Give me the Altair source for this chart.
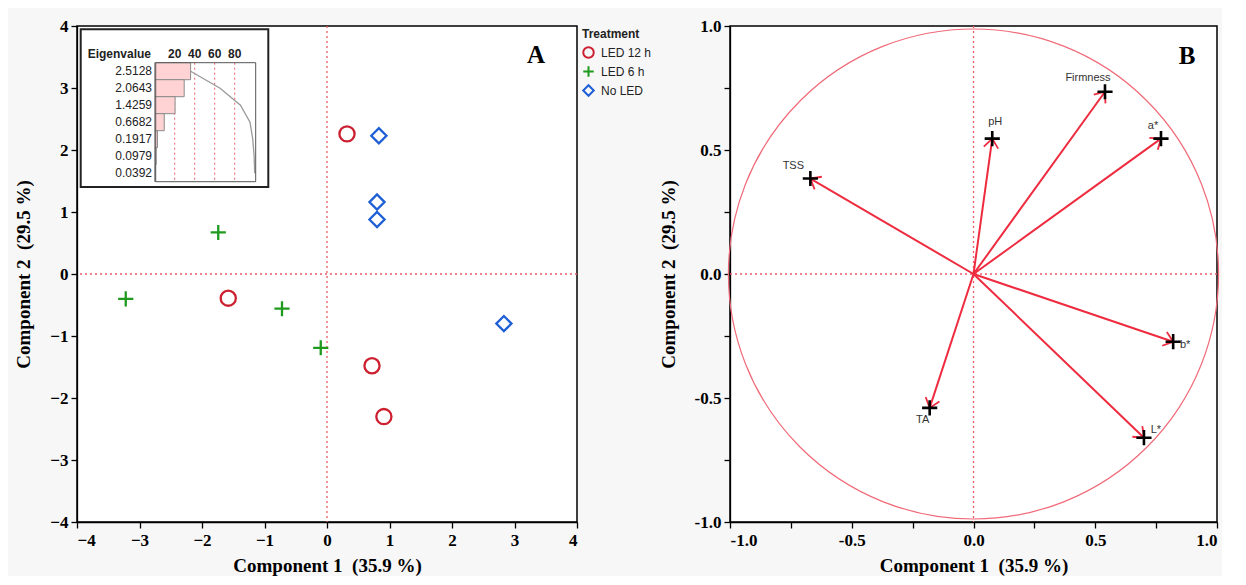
import altair as alt
import pandas as pd

# ---------------- data ----------------
treatment = ["LED 12 h"] * 4 + ["LED 6 h"] * 4 + ["No LED"] * 4
comp1 = [0.32, -1.58, 0.72, 0.91, -1.74, -3.22, -0.72, -0.10, 0.83, 0.80, 0.80, 2.83]
comp2 = [2.26, -0.39, -1.48, -2.30, 0.67, -0.40, -0.56, -1.19, 2.23, 1.16, 0.88, -0.80]

variables = ["TSS", "pH", "Firmness", "a*", "b*", "L*", "TA"]
load1 = [-0.67, 0.077, 0.54, 0.77, 0.82, 0.70, -0.18]
load2 = [0.385, 0.546, 0.735, 0.546, -0.273, -0.66, -0.54]

eigenvalues = [2.5128, 2.0643, 1.4259, 0.6682, 0.1917, 0.0979, 0.0392]
eigen_rows = [1, 2, 3, 4, 5, 6, 7]
pct_ticks = [20, 40, 60, 80]

treat_order = ["LED 12 h", "LED 6 h", "No LED"]
treat_colors = ["#cc1f30", "#1f9a1f", "#1f5fd6"]
PLUS = "M-1,0L1,0M0,-1L0,1"
treat_shapes = ["circle", PLUS, "diamond"]

RED = "#ee2b3f"
DOT = "#ec5a68"
SERIF = "Liberation Serif"
SANS = "Liberation Sans"

# label offsets for loading labels (style)
label_offsets = {"TSS": (-17, -13), "pH": (3, -17), "Firmness": (-17, -14),
                 "a*": (-8, -13), "b*": (12, 3), "L*": (12, -8), "TA": (-7, 12)}

W_L, H = 500, 496
W_R = 487

# ---------------- left panel ----------------
scores = pd.DataFrame({"Treatment": treatment, "c1": comp1, "c2": comp2})
zero = pd.DataFrame({"v": [0]})
one = pd.DataFrame({"v": [0]})

sxL = alt.Scale(domain=[-4, 4], nice=False, zero=False)
syL = alt.Scale(domain=[-4, 4], nice=False, zero=False)
axxL = alt.Axis(values=list(range(-4, 5)), format="d", title="Component 1\u00a0 (35.9 %)",
                labelPadding=4, titlePadding=8)
axyL = alt.Axis(values=list(range(-4, 5)), format="d", title="Component 2\u00a0 (29.5 %)",
                labelPadding=3, titlePadding=16)


def LX(f):
    return alt.X(f, type="quantitative", scale=sxL, axis=axxL)


def LY(f):
    return alt.Y(f, type="quantitative", scale=syL, axis=axyL)


vline_L = alt.Chart(zero).mark_rule(color=DOT, strokeDash=[2, 3], strokeWidth=1.3).encode(x=LX("v"))
hline_L = alt.Chart(zero).mark_rule(color=DOT, strokeDash=[2, 3], strokeWidth=1.3).encode(y=LY("v"))

pts = alt.Chart(scores).mark_point(filled=False, strokeWidth=2.3, opacity=1, size=230).encode(
    x=LX("c1"), y=LY("c2"),
    color=alt.Color("Treatment:N", scale=alt.Scale(domain=treat_order, range=treat_colors),
                    legend=alt.Legend(title="Treatment", orient="right", offset=2)),
    shape=alt.Shape("Treatment:N", scale=alt.Scale(domain=treat_order, range=treat_shapes)),
)

letterA = alt.Chart(one).mark_text(text="A", font=SERIF, fontWeight="bold", fontSize=25,
                                   color="black").encode(x=alt.value(459), y=alt.value(29))

main_L = alt.layer(vline_L, hline_L, pts, letterA)

# inset (scree table)
ev_df = pd.DataFrame({"ev": eigenvalues, "row": eigen_rows})
insx = alt.Scale(domain=[0, 100], range=[77.7, 177.7], nice=False, zero=False)
insy = alt.Scale(domain=[0.5, 7.5], range=[36.7, 155.7], nice=False, zero=False)

ins_base = (alt.Chart(ev_df)
            .transform_joinaggregate(tot="sum(ev)")
            .transform_calculate(pct="datum.ev / datum.tot * 100", z="0",
                                 y0="datum.row - 0.5", y1="datum.row + 0.5")
            .transform_window(cum="sum(pct)", sort=[alt.SortField("row")], frame=[None, 0]))

box = alt.Chart(one).mark_rect(fill="white", stroke="#222", strokeWidth=2).encode(
    x=alt.value(3.7), x2=alt.value(191.3), y=alt.value(3.3), y2=alt.value(161))

ticks_df = pd.DataFrame({"t": pct_ticks})
grid_in = alt.Chart(ticks_df).mark_rule(color=DOT, strokeDash=[2, 3], strokeWidth=1).encode(
    x=alt.X("t:Q", scale=insx, axis=None), y=alt.value(36.7), y2=alt.value(155.7))
tick_txt = alt.Chart(ticks_df).mark_text(font=SANS, fontWeight="bold", fontSize=12, color="#222").encode(
    x=alt.X("t:Q", scale=insx, axis=None), y=alt.value(28), text="t:Q")

bars = ins_base.mark_rect(fill="#ffd3d3", stroke="#8a8a8a", strokeWidth=1).encode(
    x=alt.X("z:Q", scale=insx, axis=None), x2="pct:Q",
    y=alt.Y("y0:Q", scale=insy, axis=None), y2="y1:Q")
cum_line = ins_base.mark_line(color="#9a9a9a", strokeWidth=1.3).encode(
    x=alt.X("cum:Q", scale=insx, axis=None), y=alt.Y("row:Q", scale=insy, axis=None),
    order="row:Q")
frame_in = alt.Chart(one).mark_rect(fillOpacity=0, stroke="#555", strokeWidth=1).encode(
    x=alt.value(78.7), x2=alt.value(178.7), y=alt.value(36.7), y2=alt.value(155.7))
ev_txt = ins_base.mark_text(font=SANS, fontSize=12, align="right", color="#222").encode(
    x=alt.value(75), y=alt.Y("row:Q", scale=insy, axis=None), text=alt.Text("ev:Q", format=".4f"))
ev_head = alt.Chart(one).mark_text(text="Eigenvalue", font=SANS, fontWeight="bold", fontSize=12,
                                   align="right", color="#222").encode(x=alt.value(74), y=alt.value(28))

inset = alt.layer(box, grid_in, bars, cum_line, frame_in, ev_txt, ev_head, tick_txt)

left = alt.layer(main_L, inset).resolve_scale(x="independent", y="independent").properties(
    width=W_L, height=H)

# ---------------- right panel ----------------
loads = pd.DataFrame({"var": variables, "l1": load1, "l2": load2})
sxR = alt.Scale(domain=[-1, 1], nice=False, zero=False)
syR = alt.Scale(domain=[-1, 1], nice=False, zero=False)
tick_vals = [-1, -0.75, -0.5, -0.25, 0, 0.25, 0.5, 0.75, 1]
lab_expr = ("abs(datum.value * 2 - round(datum.value * 2)) < 0.001 ? "
            "replace(format(datum.value, '.1f'), '\u2212', '-') : ''")
axxR = alt.Axis(values=tick_vals, labelExpr=lab_expr, title="Component 1\u00a0 (35.9 %)",
                labelPadding=4, titlePadding=8)
axyR = alt.Axis(values=tick_vals, labelExpr=lab_expr, title="Component 2\u00a0 (29.5 %)",
                labelPadding=3, titlePadding=16)


def RX(f):
    return alt.X(f, type="quantitative", scale=sxR, axis=axxR)


def RY(f):
    return alt.Y(f, type="quantitative", scale=syR, axis=axyR)


vline_R = alt.Chart(zero).mark_rule(color=DOT, strokeDash=[2, 3], strokeWidth=1.3).encode(x=RX("v"))
hline_R = alt.Chart(zero).mark_rule(color=DOT, strokeDash=[2, 3], strokeWidth=1.3).encode(y=RY("v"))

circle = alt.Chart(zero).mark_arc(radius=245, theta=0, theta2=6.2832, fillOpacity=0,
                                  stroke="#f06a78", strokeWidth=1.2).encode(x=RX("v"), y=RY("v"))

lbase = alt.Chart(loads).transform_calculate(
    o="0", ang="(atan2(-datum.l2, datum.l1) * 180 / PI + 360) % 360")

arrows = lbase.mark_rule(color=RED, strokeWidth=2).encode(
    x=RX("o"), y=RY("o"), x2="l1:Q", y2="l2:Q")
heads = lbase.mark_point(shape="M-1,-0.8L0,0L-1,0.8", filled=False, size=330, strokeWidth=1.8,
                         color=RED, opacity=1).encode(
    x=RX("l1"), y=RY("l2"), angle=alt.Angle("ang:Q", scale=None))
plus = lbase.mark_point(shape=PLUS, filled=False, size=230, strokeWidth=2.6, color="black",
                        opacity=1).encode(x=RX("l1"), y=RY("l2"))

label_layers = []
for v in variables:
    dx, dy = label_offsets[v]
    label_layers.append(
        lbase.transform_filter(alt.datum["var"] == v)
        .mark_text(font=SANS, fontSize=11, color="#333", dx=dx, dy=dy)
        .encode(x=RX("l1"), y=RY("l2"), text="var:N"))

letterB = alt.Chart(one).mark_text(text="B", font=SERIF, fontWeight="bold", fontSize=25,
                                   color="black").encode(x=alt.value(457), y=alt.value(30))

right = alt.layer(vline_R, hline_R, circle, arrows, heads, plus, *label_layers, letterB).properties(
    width=W_R, height=H)

chart = (alt.hconcat(left, right, spacing=2)
         .resolve_legend(color="independent", shape="independent")
         .configure(background="#f7f7f7", padding={"left": 6, "top": 8, "right": 0, "bottom": 0})
         .configure_view(fill="white", stroke="black", strokeWidth=1.5)
         .configure_axis(labelFont=SERIF, labelFontWeight="bold", labelFontSize=17, labelColor="black",
                         titleFont=SERIF, titleFontWeight="bold", titleFontSize=19, titleColor="black",
                         tickColor="black", domainColor="black", tickSize=6, tickWidth=1.3,
                         domainWidth=1.3, grid=False)
         .configure_legend(titleFont=SANS, titleFontSize=12, titleFontWeight="bold", titleColor="#222",
                           labelFont=SANS, labelFontSize=12, labelColor="#222", symbolSize=110,
                           symbolStrokeWidth=2, rowPadding=0, padding=3, titlePadding=5,
                           labelOffset=6))

chart.save("out.html", embed_options={"renderer": "svg", "actions": False})
